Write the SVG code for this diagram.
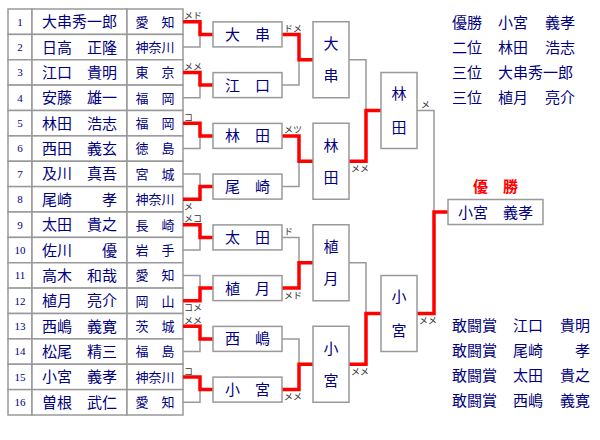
<svg xmlns="http://www.w3.org/2000/svg" width="600" height="440" viewBox="0 0 600 440">
<style>
.cell{fill:#fff;stroke:#999;stroke-width:1.5}
.box{fill:#fff;stroke:#999;stroke-width:1.5}
.num{font-family:"Liberation Serif",serif;font-size:11px;fill:#000080;text-anchor:middle}
.nm{font-family:"Noto Sans CJK JP",sans-serif;font-size:15px;fill:#000080;text-anchor:middle}
.pf{font-family:"Noto Sans CJK JP",sans-serif;font-size:13px;fill:#000080;text-anchor:middle}
.rt{font-family:"Noto Sans CJK JP",sans-serif;font-size:15px;fill:#000080}
.sc{font-family:"Noto Sans CJK JP",sans-serif;font-size:9px;fill:#333}
.lose{fill:none;stroke:#999;stroke-width:1.5}
.win{fill:none;stroke:#f00;stroke-width:3.5}
.champ{font-family:"Noto Sans CJK JP",sans-serif;font-size:15px;fill:#f00;font-weight:bold;text-anchor:middle}
</style>
<rect width="600" height="440" fill="#fff"/>

<g id="entrants">
<g id="e1"><rect class="cell" x="8" y="9" width="24" height="25.4"/><rect class="cell" x="32" y="9" width="95" height="25.4"/><rect class="cell" x="127" y="9" width="56" height="25.4"/><text class="num" x="20" y="25.5">1</text><text class="nm" x="79.5" y="27.2">大串秀一郎</text><text class="pf" x="155" y="26.5">愛　知</text></g>
<g id="e2"><rect class="cell" x="8" y="34.4" width="24" height="25.4"/><rect class="cell" x="32" y="34.4" width="95" height="25.4"/><rect class="cell" x="127" y="34.4" width="56" height="25.4"/><text class="num" x="20" y="50.9">2</text><text class="nm" x="79.5" y="52.6">日高　正隆</text><text class="pf" x="155" y="51.9">神奈川</text></g>
<g id="e3"><rect class="cell" x="8" y="59.75" width="24" height="25.4"/><rect class="cell" x="32" y="59.75" width="95" height="25.4"/><rect class="cell" x="127" y="59.75" width="56" height="25.4"/><text class="num" x="20" y="76.2">3</text><text class="nm" x="79.5" y="77.9">江口　貴明</text><text class="pf" x="155" y="77.2">東　京</text></g>
<g id="e4"><rect class="cell" x="8" y="85.1" width="24" height="25.4"/><rect class="cell" x="32" y="85.1" width="95" height="25.4"/><rect class="cell" x="127" y="85.1" width="56" height="25.4"/><text class="num" x="20" y="101.6">4</text><text class="nm" x="79.5" y="103.3">安藤　雄一</text><text class="pf" x="155" y="102.6">福　岡</text></g>
<g id="e5"><rect class="cell" x="8" y="110.5" width="24" height="25.4"/><rect class="cell" x="32" y="110.5" width="95" height="25.4"/><rect class="cell" x="127" y="110.5" width="56" height="25.4"/><text class="num" x="20" y="127">5</text><text class="nm" x="79.5" y="128.7">林田　浩志</text><text class="pf" x="155" y="128">福　岡</text></g>
<g id="e6"><rect class="cell" x="8" y="135.9" width="24" height="25.4"/><rect class="cell" x="32" y="135.9" width="95" height="25.4"/><rect class="cell" x="127" y="135.9" width="56" height="25.4"/><text class="num" x="20" y="152.4">6</text><text class="nm" x="79.5" y="154.1">西田　義玄</text><text class="pf" x="155" y="153.4">徳　島</text></g>
<g id="e7"><rect class="cell" x="8" y="161.25" width="24" height="25.4"/><rect class="cell" x="32" y="161.25" width="95" height="25.4"/><rect class="cell" x="127" y="161.25" width="56" height="25.4"/><text class="num" x="20" y="177.7">7</text><text class="nm" x="79.5" y="179.4">及川　真吾</text><text class="pf" x="155" y="178.7">宮　城</text></g>
<g id="e8"><rect class="cell" x="8" y="186.6" width="24" height="25.4"/><rect class="cell" x="32" y="186.6" width="95" height="25.4"/><rect class="cell" x="127" y="186.6" width="56" height="25.4"/><text class="num" x="20" y="203.1">8</text><text class="nm" x="79.5" y="204.8">尾崎　　孝</text><text class="pf" x="155" y="204.1">神奈川</text></g>
<g id="e9"><rect class="cell" x="8" y="212" width="24" height="25.4"/><rect class="cell" x="32" y="212" width="95" height="25.4"/><rect class="cell" x="127" y="212" width="56" height="25.4"/><text class="num" x="20" y="228.5">9</text><text class="nm" x="79.5" y="230.2">太田　貴之</text><text class="pf" x="155" y="229.5">長　崎</text></g>
<g id="e10"><rect class="cell" x="8" y="237.4" width="24" height="25.4"/><rect class="cell" x="32" y="237.4" width="95" height="25.4"/><rect class="cell" x="127" y="237.4" width="56" height="25.4"/><text class="num" x="20" y="253.9">10</text><text class="nm" x="79.5" y="255.6">佐川　　優</text><text class="pf" x="155" y="254.9">岩　手</text></g>
<g id="e11"><rect class="cell" x="8" y="262.75" width="24" height="25.4"/><rect class="cell" x="32" y="262.75" width="95" height="25.4"/><rect class="cell" x="127" y="262.75" width="56" height="25.4"/><text class="num" x="20" y="279.2">11</text><text class="nm" x="79.5" y="280.9">高木　和哉</text><text class="pf" x="155" y="280.2">愛　知</text></g>
<g id="e12"><rect class="cell" x="8" y="288.1" width="24" height="25.4"/><rect class="cell" x="32" y="288.1" width="95" height="25.4"/><rect class="cell" x="127" y="288.1" width="56" height="25.4"/><text class="num" x="20" y="304.6">12</text><text class="nm" x="79.5" y="306.3">植月　亮介</text><text class="pf" x="155" y="305.6">岡　山</text></g>
<g id="e13"><rect class="cell" x="8" y="313.5" width="24" height="25.4"/><rect class="cell" x="32" y="313.5" width="95" height="25.4"/><rect class="cell" x="127" y="313.5" width="56" height="25.4"/><text class="num" x="20" y="330">13</text><text class="nm" x="79.5" y="331.7">西嶋　義寛</text><text class="pf" x="155" y="331">茨　城</text></g>
<g id="e14"><rect class="cell" x="8" y="338.9" width="24" height="25.4"/><rect class="cell" x="32" y="338.9" width="95" height="25.4"/><rect class="cell" x="127" y="338.9" width="56" height="25.4"/><text class="num" x="20" y="355.4">14</text><text class="nm" x="79.5" y="357.1">松尾　精三</text><text class="pf" x="155" y="356.4">福　島</text></g>
<g id="e15"><rect class="cell" x="8" y="364.25" width="24" height="25.4"/><rect class="cell" x="32" y="364.25" width="95" height="25.4"/><rect class="cell" x="127" y="364.25" width="56" height="25.4"/><text class="num" x="20" y="380.7">15</text><text class="nm" x="79.5" y="382.4">小宮　義孝</text><text class="pf" x="155" y="381.7">神奈川</text></g>
<g id="e16"><rect class="cell" x="8" y="389.6" width="24" height="25.4"/><rect class="cell" x="32" y="389.6" width="95" height="25.4"/><rect class="cell" x="127" y="389.6" width="56" height="25.4"/><text class="num" x="20" y="406.1">16</text><text class="nm" x="79.5" y="407.8">曽根　武仁</text><text class="pf" x="155" y="407.1">愛　知</text></g>
</g>

<g id="connectors">
<!-- round 1 losers -->
<path class="lose" d="M183,47.1H200V34.4 M183,97.8H200V85.1 M183,148.6H200V135.9 M183,173.9H200V186.6 M183,250.1H200V237.4 M183,275.4H200V288.1 M183,351.6H200V338.9 M183,402.3H200V389.6"/>
<!-- round 2 losers -->
<path class="lose" d="M282,85.1H299V59.75 M282,186.6H299V161.25 M282,237.4H299V262.75 M282,338.9H299V364.25"/>
<!-- round 3 losers -->
<path class="lose" d="M349,59.75H366V110.5 M349,262.75H366V313.5"/>
<!-- final loser -->
<path class="lose" d="M417,110.5H434V212"/>
<!-- winners -->
<path class="win" d="M183,21.7H200V34.4H213 M183,72.4H200V85.1H213 M183,123.2H200V135.9H213 M183,199.3H200V186.6H213 M183,224.7H200V237.4H213 M183,300.8H200V288.1H213 M183,326.2H200V338.9H213 M183,376.9H200V389.6H213"/>
<path class="win" d="M282,34.4H299V59.75H313 M282,135.9H299V161.25H313 M282,288.1H299V262.75H313 M282,389.6H299V364.25H313"/>
<path class="win" d="M349,161.25H366V110.5H381 M349,364.25H366V313.5H381"/>
<path class="win" d="M417,313.5H434V212H448"/>
<!-- scores -->
<text class="sc" x="184" y="19">メド</text>
<text class="sc" x="184" y="70">メメ</text>
<text class="sc" x="184" y="121">コ</text>
<text class="sc" x="184" y="210">メ</text>
<text class="sc" x="184" y="222">メコ</text>
<text class="sc" x="184" y="311">コメ</text>
<text class="sc" x="184" y="324">メメ</text>
<text class="sc" x="184" y="375">コ</text>
<text class="sc" x="284" y="32">ドメ</text>
<text class="sc" x="284" y="133">メツ</text>
<text class="sc" x="284" y="235">ド</text>
<text class="sc" x="284" y="299">メド</text>
<text class="sc" x="284" y="400">メメ</text>
<text class="sc" x="351" y="172">メメ</text>
<text class="sc" x="351" y="375">メメ</text>
<text class="sc" x="421" y="108">メ</text>
<text class="sc" x="419" y="324">メメ</text>
</g>

<g id="r2-1"><rect class="box" x="213" y="21.9" width="69" height="25"/><text class="nm" x="247.5" y="39.9">大　串</text></g>
<g id="r2-2"><rect class="box" x="213" y="72.6" width="69" height="25"/><text class="nm" x="247.5" y="90.6">江　口</text></g>
<g id="r2-3"><rect class="box" x="213" y="123.4" width="69" height="25"/><text class="nm" x="247.5" y="141.4">林　田</text></g>
<g id="r2-4"><rect class="box" x="213" y="174.1" width="69" height="25"/><text class="nm" x="247.5" y="192.1">尾　崎</text></g>
<g id="r2-5"><rect class="box" x="213" y="224.9" width="69" height="25"/><text class="nm" x="247.5" y="242.9">太　田</text></g>
<g id="r2-6"><rect class="box" x="213" y="275.6" width="69" height="25"/><text class="nm" x="247.5" y="293.6">植　月</text></g>
<g id="r2-7"><rect class="box" x="213" y="326.4" width="69" height="25"/><text class="nm" x="247.5" y="344.4">西　嶋</text></g>
<g id="r2-8"><rect class="box" x="213" y="377.1" width="69" height="25"/><text class="nm" x="247.5" y="395.1">小　宮</text></g>

<g id="r3-1"><rect class="box" x="313" y="21.75" width="36" height="76"/><text class="nm" x="331" y="49">大</text><text class="nm" x="331" y="81">串</text></g>
<g id="r3-2"><rect class="box" x="313" y="123.25" width="36" height="76"/><text class="nm" x="331" y="150.5">林</text><text class="nm" x="331" y="182.5">田</text></g>
<g id="r3-3"><rect class="box" x="313" y="224.75" width="36" height="76"/><text class="nm" x="331" y="252">植</text><text class="nm" x="331" y="284">月</text></g>
<g id="r3-4"><rect class="box" x="313" y="326.25" width="36" height="76"/><text class="nm" x="331" y="353.5">小</text><text class="nm" x="331" y="385.5">宮</text></g>

<g id="sf-1"><rect class="box" x="381" y="72.5" width="36" height="76"/><text class="nm" x="399" y="99">林</text><text class="nm" x="399" y="132.5">田</text></g>
<g id="sf-2"><rect class="box" x="381" y="275.5" width="36" height="76"/><text class="nm" x="399" y="302">小</text><text class="nm" x="399" y="335.5">宮</text></g>

<g id="final"><text class="champ" x="495.5" y="191.5">優　勝</text><rect class="box" x="448" y="199.5" width="95" height="25"/><text class="nm" x="495.5" y="217.5">小宮　義孝</text></g>

<g id="results">
<text class="rt" x="452" y="27.5">優勝</text><text class="rt" x="498" y="27.5">小宮</text><text class="rt" x="545" y="27.5">義孝</text>
<text class="rt" x="452" y="52.5">二位</text><text class="rt" x="498" y="52.5">林田</text><text class="rt" x="545" y="52.5">浩志</text>
<text class="rt" x="452" y="77.5">三位</text><text class="rt" x="498" y="77.5">大串秀一郎</text>
<text class="rt" x="452" y="102.5">三位</text><text class="rt" x="498" y="102.5">植月</text><text class="rt" x="545" y="102.5">亮介</text>
</g>

<g id="awards">
<text class="rt" x="452" y="330.5">敢闘賞</text><text class="rt" x="513" y="330.5">江口</text><text class="rt" x="560" y="330.5">貴明</text>
<text class="rt" x="452" y="355.5">敢闘賞</text><text class="rt" x="513" y="355.5">尾崎</text><text class="rt" x="575" y="355.5">孝</text>
<text class="rt" x="452" y="380.5">敢闘賞</text><text class="rt" x="513" y="380.5">太田</text><text class="rt" x="560" y="380.5">貴之</text>
<text class="rt" x="452" y="405.5">敢闘賞</text><text class="rt" x="513" y="405.5">西嶋</text><text class="rt" x="560" y="405.5">義寛</text>
</g>
</svg>
